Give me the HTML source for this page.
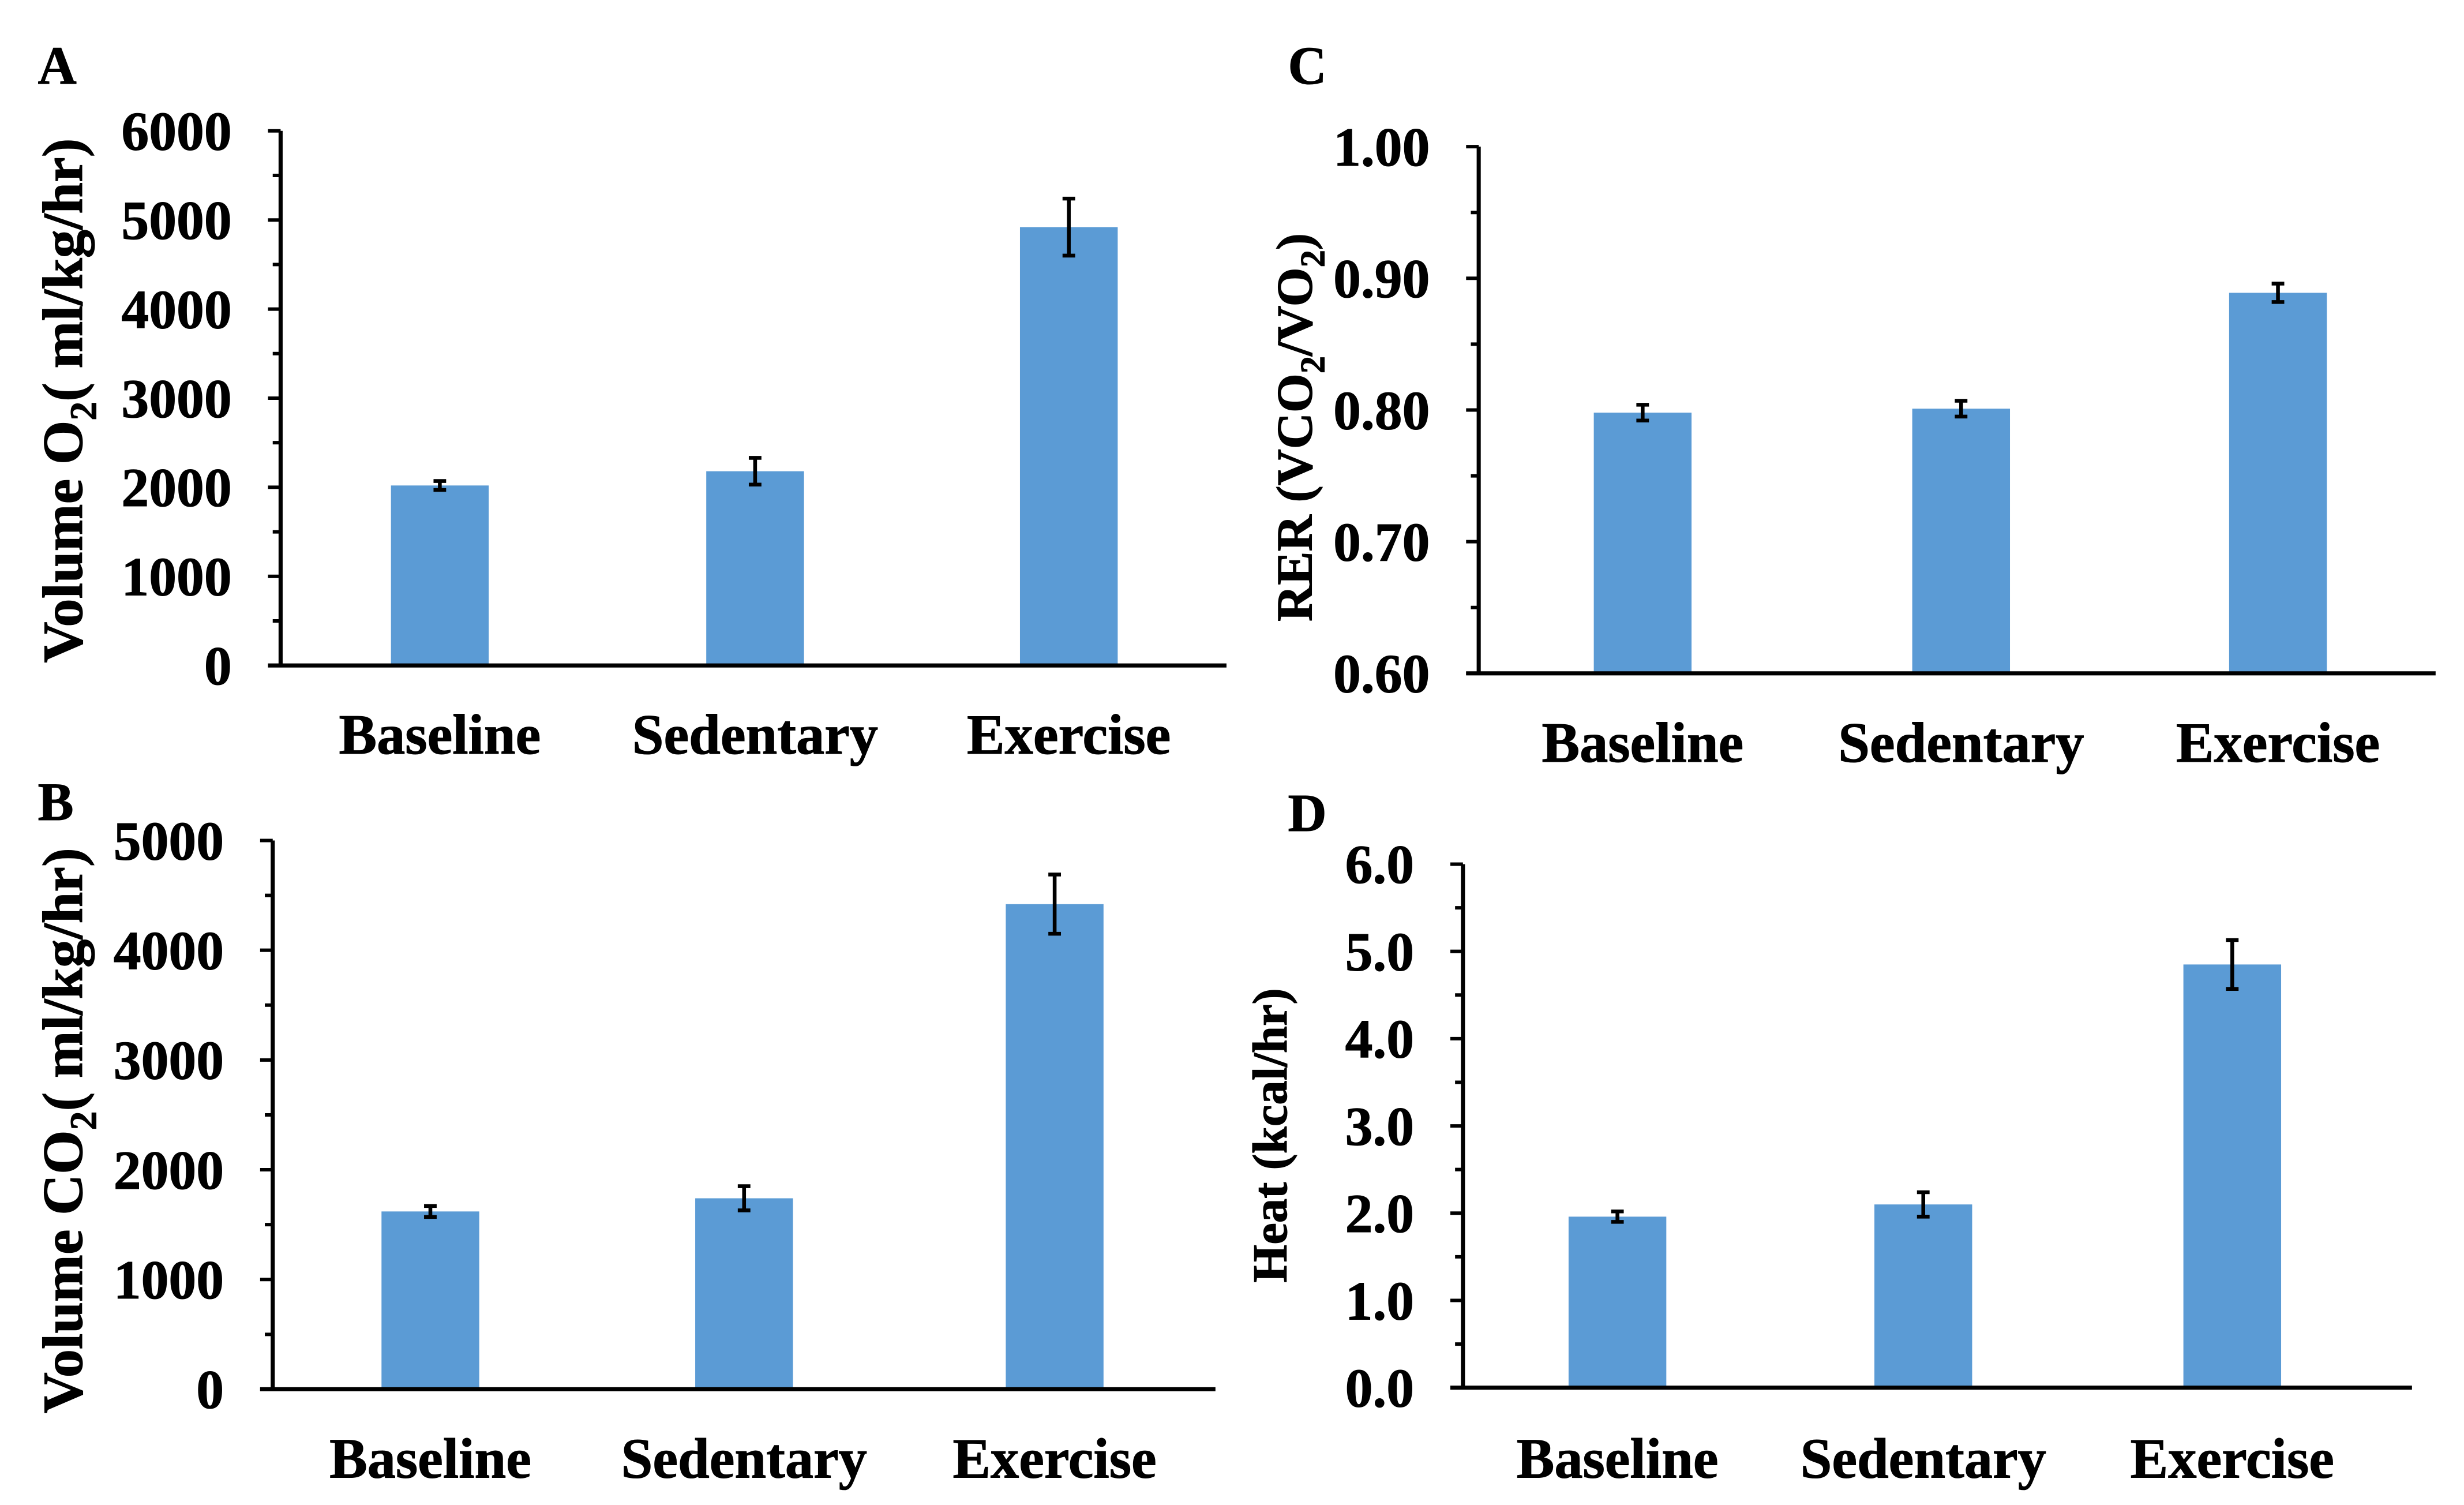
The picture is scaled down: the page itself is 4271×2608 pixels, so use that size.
<!DOCTYPE html>
<html><head><meta charset="utf-8"><style>
html,body{margin:0;padding:0;background:#fff;}
svg{display:block;}
text{font-family:"Liberation Serif",serif;font-weight:bold;fill:#000;stroke:#000;stroke-width:0.4;}
</style></head><body>
<svg id="fig" width="4271" height="2608" viewBox="0 0 1563 954.4" preserveAspectRatio="none" xmlns="http://www.w3.org/2000/svg">
<text x="24" y="53" font-size="34">A</text>
<text x="817" y="53" font-size="34">C</text>
<text x="24" y="520" font-size="34">B</text>
<text x="817" y="527" font-size="34">D</text>
<text transform="translate(52,254) rotate(-90)" text-anchor="middle" font-size="36">Volume O<tspan font-size="24" dy="9">2</tspan><tspan dy="-9">( ml/kg/hr)</tspan></text>
<text transform="translate(52,717) rotate(-90)" text-anchor="middle" font-size="36">Volume CO<tspan font-size="24" dy="9">2</tspan><tspan dy="-9">( ml/kg/hr)</tspan></text>
<text transform="translate(832,271) rotate(-90)" text-anchor="middle" font-size="32">RER (VCO<tspan font-size="22" dy="8">2</tspan><tspan dy="-8">/VO</tspan><tspan font-size="22" dy="8">2</tspan><tspan dy="-8">)</tspan></text>
<text transform="translate(816,720) rotate(-90)" text-anchor="middle" font-size="31">Heat (kcal/hr)</text>
</svg>
<script>
const categories = ["Baseline","Sedentary","Exercise"];
const valuesA = [2020, 2180, 4920];
const errorsA = [50, 150, 320];
const ticksA = ["0","1000","2000","3000","4000","5000","6000"];
const valuesB = [1620, 1740, 4420];
const errorsB = [50, 110, 270];
const ticksB = ["0","1000","2000","3000","4000","5000"];
const valuesC = [0.798, 0.801, 0.889];
const errorsC = [0.006, 0.006, 0.007];
const ticksC = ["0.60","0.70","0.80","0.90","1.00"];
const valuesD = [1.96, 2.10, 4.85];
const errorsD = [0.06, 0.14, 0.28];
const ticksD = ["0.0","1.0","2.0","3.0","4.0","5.0","6.0"];

const NS = "http://www.w3.org/2000/svg";
const svg = document.getElementById("fig");
function mk(tag, attrs){ const e=document.createElementNS(NS,tag); for(const k in attrs) e.setAttribute(k,attrs[k]); svg.appendChild(e); return e; }

function panel(id, g, vals, errs, ticks){
  const tmin = parseFloat(ticks[0]), tmax = parseFloat(ticks[ticks.length-1]);
  const y = v => g.y0 - (v - tmin)/(tmax - tmin)*(g.y0 - g.y1);
  vals.forEach((v,i)=>{
    const cx = g.cx[i];
    const r = mk("rect",{x:cx-31,y:y(v),width:62,height:g.y0-y(v),fill:"#5b9bd5"});
    
    
    const e = mk("path",{d:`M${cx},${y(v+errs[i])}V${y(v-errs[i])}M${cx-4},${y(v+errs[i])}H${cx+4}M${cx-4},${y(v-errs[i])}H${cx+4}`,stroke:"#000","stroke-width":2.4,fill:"none"});
    
    
    const t = mk("text",{x:cx,y:g.lab,"text-anchor":"middle","font-size":36});
    t.textContent = categories[i];
    
    
  });
  const ax = mk("path",{d:`M${g.ax},${g.y1}V${g.y0}M${g.ax-8},${g.y0}H${g.xr}`,stroke:"#000","stroke-width":2.6,fill:"none"});
  
  
  const n = ticks.length-1;
  let d = "";
  for(let i=0;i<=n;i++){
    const v = tmin + (tmax-tmin)*i/n;
    d += `M${g.ax-8},${y(v)}H${g.ax}`;
    if(i<n){ const vm = v + (tmax-tmin)/n/2; d += `M${g.ax-5},${y(vm)}H${g.ax}`; }
    const t = mk("text",{x:g.ax-31,y:y(v)+12,"text-anchor":"end","font-size":35});
    t.textContent = ticks[i];
    
    
  }
  const tk = mk("path",{d:d,stroke:"#000","stroke-width":2.2,fill:"none"});
  
  
}
panel("a",{ax:178,y0:422,y1:83,xr:778,cx:[279,479,678],lab:478},valuesA,errorsA,ticksA);
panel("b",{ax:173,y0:881,y1:533,xr:771,cx:[273,472,669],lab:937},valuesB,errorsB,ticksB);
panel("c",{ax:938,y0:427,y1:93,xr:1545,cx:[1042,1244,1445],lab:483},valuesC,errorsC,ticksC);
panel("d",{ax:928,y0:880,y1:548,xr:1530,cx:[1026,1220,1416],lab:937},valuesD,errorsD,ticksD);
</script>
</body></html>
